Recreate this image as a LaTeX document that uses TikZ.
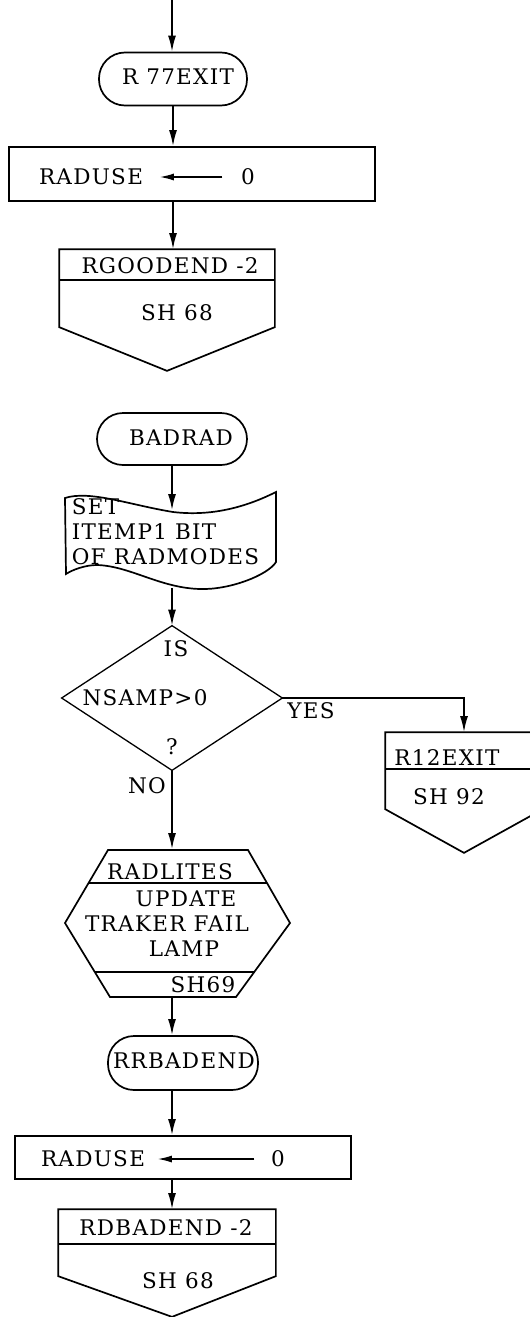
\documentclass[tikz,border=0pt]{standalone}
\usepackage{fontspec}
\usetikzlibrary{arrows.meta,calc}
\newfontfamily\chartfont[LetterSpace=6]{DejaVu Serif}
\begin{document}
\begin{tikzpicture}[x=1pt,y=-1pt,line width=1.7pt,
  every node/.style={font=\chartfont\fontsize{21.5}{25}\selectfont},
  lbl/.style={inner sep=0pt},
  hold/.style={draw=none,inner sep=0pt,rectangle},
  term/.style={draw,rectangle,rounded corners=26pt,inner sep=0pt},
  proc/.style={draw,rectangle,inner sep=0pt},
  flow/.style={-{Latex[length=16pt,width=8pt]}},
  assign/.style={-{Latex[length=14pt,width=7pt]},line width=1.4pt}]
\useasboundingbox (0,0) rectangle (530,1317);
\clip (0,0) rectangle (530,1317);

% ---- R77EXIT branch ----
\coordinate (entry) at (172,0);
\node[term,minimum width=148pt,minimum height=53pt] (r77) at (173,79) {};
\node[lbl] (r77t) at (178,77) {R 77EXIT};
\draw[flow] (entry) -- (entry |- r77.north);

\node[proc,minimum width=366pt,minimum height=54pt] (radA) at (192,174) {};
\node[lbl] (radAl) at (91,177) {RADUSE};
\node[lbl] (radAr) at (248,177) {0};
\draw[assign,shorten <=18pt,shorten >=16pt] (radAr.west) -- (radAl.east);
\draw[flow] (r77.south) -- (r77.south |- radA.north);

\node[hold,minimum width=214pt,minimum height=120pt] (rgood) at (167,310) {};
\draw (rgood.north west) -- (rgood.north east) -- ++(0,78) -- (rgood.south)
      -- ([yshift=-78pt]rgood.north west) -- cycle;
\draw ([yshift=-31pt]rgood.north west) -- ([yshift=-31pt]rgood.north east);
\node[lbl] (rgoodt) at (170,266) {RGOODEND -2};
\node[lbl] (rgoodsh) at (177,313) {SH 68};
\draw[flow] (r77.south |- radA.south) -- (r77.south |- rgood.north);

% ---- BADRAD branch ----
\node[term,minimum width=150pt,minimum height=52pt] (badrad) at (172,439) {};
\node[lbl] (badradt) at (181,438) {BADRAD};

\node[hold,minimum width=211pt,minimum height=76pt] (doc) at (170,549) {};
\draw (65,498) .. controls (90,490) and (130,505) .. (173,512)
      .. controls (215,517) and (250,505) .. (276,492)
      -- (276,562)
      .. controls (268,575) and (230,590) .. (200,589)
      .. controls (160,588) and (130,566) .. (97,565)
      .. controls (85,565) and (72,570) .. (66,574) -- cycle;
\node[lbl,anchor=west] (doct1) at (71,507) {SET};
\node[lbl,anchor=west] (doct2) at (71,532) {ITEMP1 BIT};
\node[lbl,anchor=west] (doct3) at (71,557) {OF RADMODES};
\draw[flow] (badrad.south) -- (badrad.south |- doc.north);

\node[hold,minimum width=219pt,minimum height=143pt] (dec) at (172,698) {};
\draw[line width=1.3pt] (dec.north) -- (dec.east) -- (dec.south) -- (dec.west) -- cycle;
\node[lbl] (decis) at (176,649) {IS};
\node[lbl] (decq) at (145,698) {NSAMP>0};
\node[lbl] (decm) at (172,747) {?};
\draw[flow] (badrad.south |- doc.south) -- (dec.north);

% YES exit
\node[hold,minimum width=156pt,minimum height=119pt] (r12) at (464,792.5) {};
\draw (r12.north west) -- (r12.north east) -- ++(0,77) -- (r12.south)
      -- ([yshift=-77pt]r12.north west) -- cycle;
\draw ([yshift=-37pt]r12.north west) -- ([yshift=-37pt]r12.north east);
\node[lbl] (r12t) at (447,758) {R12EXIT};
\node[lbl] (r12sh) at (449,797) {SH 92};
\draw[flow] (dec.east) -| (r12.north);
\node[lbl] (yes) at (311,711) {YES};

% NO path
\node[hold,minimum width=225pt,minimum height=147pt] (hex) at (177,923.5) {};
\coordinate (htl) at (108,850);
\coordinate (htr) at (248,850);
\coordinate (hr)  at (290,923);
\coordinate (hbr) at (236,997);
\coordinate (hbl) at (110,997);
\coordinate (hl)  at (65,923);
\draw (htl) -- (htr) -- (hr) -- (hbr) -- (hbl) -- (hl) -- cycle;
\draw ($(htl)!0.452!(hl)$) -- ($(htr)!0.452!(hr)$);
\draw ($(hbl)!0.338!(hl)$) -- ($(hbr)!0.338!(hr)$);
\node[lbl] (hex1) at (170,872) {RADLITES};
\node[lbl] (hex2) at (186,899) {UPDATE};
\node[lbl] (hex3) at (167,924) {TRAKER FAIL};
\node[lbl] (hex4) at (184,949) {LAMP};
\node[lbl] (hex5) at (203,985) {SH69};
\draw[flow] (dec.south) -- (dec.south |- hex.north);
\node[lbl] (no) at (147,786) {NO};

\node[term,minimum width=150pt,minimum height=54pt] (rrb) at (183,1063) {};
\node[lbl] (rrbt) at (184,1061) {RRBADEND};
\draw[flow] (dec.south |- hex.south) -- (dec.south |- rrb.north);

\node[proc,minimum width=336pt,minimum height=43pt] (radB) at (183,1157.5) {};
\node[lbl] (radBl) at (93,1159) {RADUSE};
\node[lbl] (radBr) at (278,1159) {0};
\draw[assign,shorten <=16pt,shorten >=12pt] (radBr.west) -- (radBl.east);
\draw[flow] (dec.south |- rrb.south) -- (dec.south |- radB.north);

\node[hold,minimum width=216pt,minimum height=106pt] (rdbad) at (167,1263) {};
\draw (rdbad.north west) -- (rdbad.north east) -- ++(0,67) -- ([xshift=5pt]rdbad.south)
      -- ([yshift=-67pt]rdbad.north west) -- cycle;
\draw ([yshift=-35pt]rdbad.north west) -- ([yshift=-35pt]rdbad.north east);
\node[lbl] (rdbadt) at (166,1228) {RDBADEND -2};
\node[lbl] (rdbadsh) at (178,1281) {SH 68};
\draw[flow] (dec.south |- radB.south) -- (dec.south |- rdbad.north);
\end{tikzpicture}
\end{document}
